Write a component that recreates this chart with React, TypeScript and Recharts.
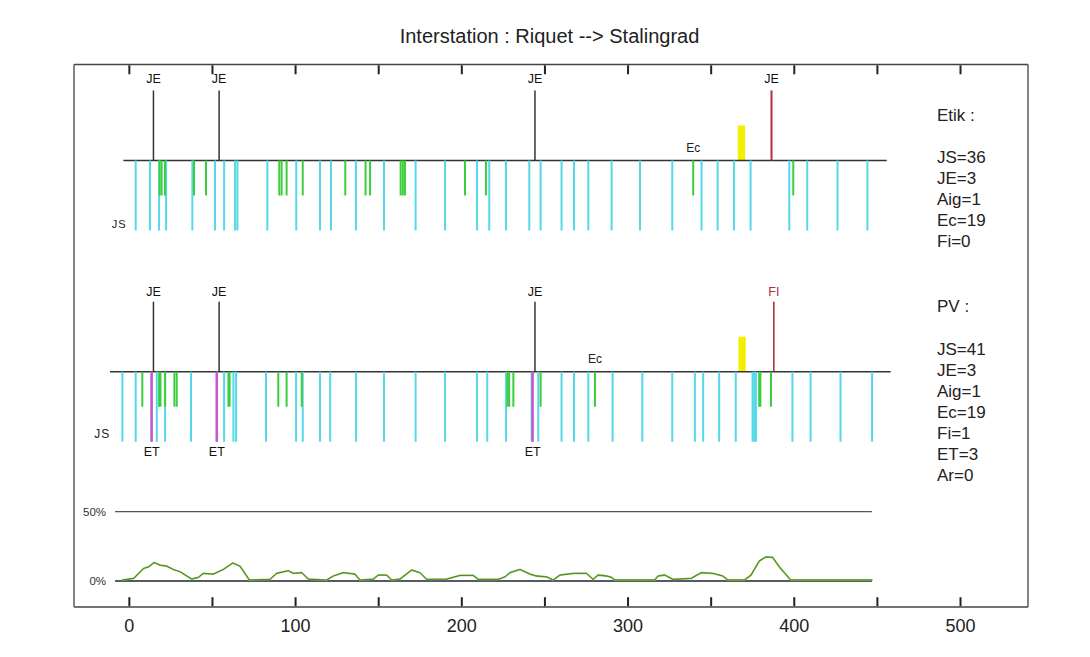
import React from 'react';
import { ComposedChart, XAxis, YAxis, Line, ReferenceLine, ReferenceArea } from 'recharts';

// ---------- data ----------
const xTicks = [0, 50, 100, 150, 200, 250, 300, 350, 400, 450, 500];

// Etik panel
const etikJS = [3.8, 12.4, 17.9, 22.1, 37.9, 51.5, 57, 63.6, 65, 83, 100.4, 114.7, 121.3, 136.3, 153.2, 172.2, 189.9, 209.1, 216.5, 226.6, 240.6, 247.4, 260, 267.5, 276.1, 290.1, 307.2, 326.6, 344.2, 353.9, 363.7, 373.7, 397, 407.8, 426, 444];
const etikEc = [18.2, 19.4, 21.4, 38.9, 46.1, 90.2, 91.6, 94.6, 104.3, 129.9, 142.1, 144.8, 163.2, 164.5, 165.8, 201.9, 214.5, 339.2, 399.4];
const etikJE = [14.5, 54, 244];
const etikJERed = [386.3];
const etikAig = [368.2];
const etikEcLabelAt = 339.2;
const etikBaseline = [-3.6, 455.6];

// PV panel
const pvJS = [-4.2, 3.8, 13.4, 16.5, 21.5, 37.1, 52.6, 57, 62.6, 64.2, 82.2, 100.3, 104.3, 114.7, 120.8, 136.4, 153.2, 172.2, 189.9, 209.1, 215.3, 226.6, 242, 246, 260, 267.5, 276.1, 290.7, 308.6, 326.6, 340.2, 345.2, 354.8, 364.8, 374.9, 375.9, 376.9, 398.9, 409.8, 427.8, 446.8];
const pvEc = [7.8, 17.9, 18.7, 21.5, 27.1, 28.5, 59.6, 60.3, 89.6, 94.6, 103.7, 227.5, 228.5, 231, 247.4, 280.1, 378.9, 379.6, 386];
const pvJE = [14.5, 54, 244];
const pvFI = [387.7];
const pvET = [13.4, 52.6, 242.6];
const pvAig = [368.6];
const pvEcLabelAt = 280.1;
const pvBaseline = [-11.6, 458];

// percentage curve
const pctPos = [-4.4, 2.6, 8.5, 11.5, 14.9, 18.5, 22.5, 26.5, 30.5, 37.5, 41.5, 44.5, 50.5, 56.5, 62.2, 66.6, 72.2, 84.6, 88.6, 95.6, 98.6, 103.7, 107.7, 118.7, 122.7, 128.7, 135.7, 138.7, 146.8, 149.7, 154.8, 157.8, 162.8, 169.8, 174.8, 178.9, 190.9, 198.9, 206.9, 209.9, 222, 226, 229, 235, 241, 245, 251, 255, 259, 267, 275, 279, 282, 287, 290, 292, 316, 318, 322, 327, 338, 344, 351, 357, 360, 370, 374, 379, 383, 387, 391, 397, 398, 447];
const pctVal = [0.7, 1.9, 9, 10.2, 13.3, 11.4, 10.7, 8.3, 6.7, 1.4, 2.6, 5.5, 5, 8.3, 13, 10.7, 0.7, 1.2, 5.5, 7.4, 5.5, 6, 1.4, 0.7, 3.6, 6, 5, 0.7, 1.4, 4.3, 4.3, 0.7, 1.4, 7.9, 6, 1.2, 1.4, 4, 4, 1.2, 1.2, 3, 6, 8.3, 5, 3.6, 3, 0.7, 4.3, 5.5, 5.5, 1.2, 4.3, 3.6, 2.6, 0.7, 0.7, 3.6, 4.3, 1.2, 1.9, 6, 5.5, 3.6, 0.7, 0.7, 4.3, 14.5, 17.4, 17, 10.2, 1.9, 0.7, 0.7];
const pctRefLevels = [50, 0];
const pctRefLabels = ['50%', '0%'];
const pctRefSpan = [-8.6, 446.7];

// mark heights (panel units)
const JE_H = 1;
const JS_H = -1;
const EC_H = -0.5;
const AIG_H = 0.5;
const AIG_HALF = 2.2;

const title = 'Interstation : Riquet --> Stalingrad';
const etikHeader = 'Etik :';
const etikStats = ['JS=36', 'JE=3', 'Aig=1', 'Ec=19', 'Fi=0'];
const pvHeader = 'PV :';
const pvStats = ['JS=41', 'JE=3', 'Aig=1', 'Ec=19', 'Fi=1', 'ET=3', 'Ar=0'];

// ---------- layout ----------
const W = 1090;
const H = 657;
const X_DOMAIN: [number, number] = [-33.3, 540.6];
const ETIK_DOMAIN: [number, number] = [-6.379, 1.371];
const PV_DOMAIN: [number, number] = [-3.361, 4.389];
const PCT_DOMAIN: [number, number] = [-18.75, 372.4];
const TICK_LEN = 9 / 70; // panel units (70 px per unit)
const TICK_INSET = 0.011; // keep tick ends just inside the frame

const CYAN = '#55d8e8';
const GREEN = '#3acf3a';
const BLACK = '#333333';
const RED = '#b0303c';
const MAGENTA = '#cc55cc';
const YELLOW = '#f2f000';
const AXIS = '#444';
const TICK = '#222';
const FONT = '"Liberation Sans", Arial, Helvetica, sans-serif';

const seg = (x: number, y0: number, y1: number) => [
  { x, y: y0 },
  { x, y: y1 },
];

const jsLabel = (dx: number, dy: number, size: number) => (props: any) => {
  const vb = props.viewBox || {};
  return (
    <text x={vb.x - dx} y={vb.y + vb.height - dy} textAnchor="end" fontSize={size} fill="#222" style={{ letterSpacing: 1 }}>
      JS
    </text>
  );
};

export default function App() {
  const pctData = pctPos.map((pos, i) => ({ pos, pct: pctVal[i] }));
  const topTickY = ETIK_DOMAIN[1] - TICK_INSET;
  const bottomTickY = PV_DOMAIN[0] + TICK_INSET;

  return (
    <div style={{ position: 'absolute', left: 0, top: 0, width: W, height: H, background: '#fff', fontFamily: FONT }}>
      <ComposedChart width={W} height={H} margin={{ top: 54.5, left: 74, right: 62, bottom: 0 }}>
        <XAxis
          dataKey="pos"
          type="number"
          domain={X_DOMAIN}
          allowDataOverflow
          ticks={xTicks}
          interval={0}
          height={50}
          tickSize={0}
          tickMargin={12}
          tickFormatter={(v: number) => (v % 100 === 0 ? String(v) : '')}
          tick={{ fontSize: 18, fill: '#222' }}
          axisLine={{ stroke: AXIS, strokeWidth: 1.3 }}
          tickLine={false}
        />
        <XAxis
          xAxisId="top"
          orientation="top"
          dataKey="pos"
          type="number"
          domain={X_DOMAIN}
          allowDataOverflow
          ticks={xTicks}
          interval={0}
          height={10}
          tickSize={0}
          tick={false}
          axisLine={{ stroke: AXIS, strokeWidth: 1.3 }}
          tickLine={false}
        />
        <YAxis yAxisId="etik" type="number" domain={ETIK_DOMAIN} allowDataOverflow hide />
        <YAxis yAxisId="pv" type="number" domain={PV_DOMAIN} allowDataOverflow hide />
        <YAxis yAxisId="pct" type="number" domain={PCT_DOMAIN} allowDataOverflow hide />

        {/* frame sides */}
        <ReferenceLine yAxisId="pct" x={X_DOMAIN[0]} stroke={AXIS} strokeWidth={1.3} ifOverflow="visible" />
        <ReferenceLine yAxisId="pct" x={X_DOMAIN[1]} stroke={AXIS} strokeWidth={1.3} ifOverflow="visible" />

        {/* inward tick marks (top and bottom of the frame) */}
        {xTicks.map((t) => (
          <ReferenceLine key={`tt${t}`} yAxisId="etik" segment={seg(t, topTickY, topTickY - TICK_LEN)} stroke={TICK} strokeWidth={2} />
        ))}
        {xTicks.map((t) => (
          <ReferenceLine key={`bt${t}`} yAxisId="pv" segment={seg(t, bottomTickY, bottomTickY + TICK_LEN)} stroke={TICK} strokeWidth={2} />
        ))}

        {/* ---- Etik panel ---- */}
        <ReferenceLine yAxisId="etik" segment={[{ x: etikBaseline[0], y: 0 }, { x: etikBaseline[1], y: 0 }]} stroke={BLACK} strokeWidth={1.4} />
        {etikJS.map((x, i) => (
          <ReferenceLine
            key={`ejs${i}`}
            yAxisId="etik"
            segment={seg(x, 0, JS_H)}
            stroke={CYAN}
            strokeWidth={2}
            label={i === 0 ? { content: jsLabel(9, 2, 11) } : undefined}
          />
        ))}
        {etikEc.map((x, i) => (
          <ReferenceLine
            key={`eec${i}`}
            yAxisId="etik"
            segment={seg(x, 0, EC_H)}
            stroke={GREEN}
            strokeWidth={2}
            label={x === etikEcLabelAt ? { value: 'Ec', position: 'top', offset: 8, fontSize: 12, fill: '#222' } : undefined}
          />
        ))}
        {etikJE.map((x, i) => (
          <ReferenceLine
            key={`eje${i}`}
            yAxisId="etik"
            segment={seg(x, 0, JE_H)}
            stroke={BLACK}
            strokeWidth={1.5}
            label={{ value: 'JE', position: 'top', offset: 7, fontSize: 12.5, fill: '#111' }}
          />
        ))}
        {etikJERed.map((x, i) => (
          <ReferenceLine
            key={`ejr${i}`}
            yAxisId="etik"
            segment={seg(x, 0, JE_H)}
            stroke={RED}
            strokeWidth={2}
            label={{ value: 'JE', position: 'top', offset: 7, fontSize: 12.5, fill: '#111' }}
          />
        ))}
        {etikAig.map((x, i) => (
          <ReferenceArea key={`eaig${i}`} yAxisId="etik" x1={x - AIG_HALF} x2={x + AIG_HALF} y1={0} y2={AIG_H} fill={YELLOW} fillOpacity={1} stroke="none" />
        ))}

        {/* ---- PV panel ---- */}
        <ReferenceLine yAxisId="pv" segment={[{ x: pvBaseline[0], y: 0 }, { x: pvBaseline[1], y: 0 }]} stroke={BLACK} strokeWidth={1.4} />
        {pvJS.map((x, i) => (
          <ReferenceLine
            key={`pjs${i}`}
            yAxisId="pv"
            segment={seg(x, 0, JS_H)}
            stroke={CYAN}
            strokeWidth={2}
            label={i === 0 ? { content: jsLabel(12, 4, 12) } : undefined}
          />
        ))}
        {pvEc.map((x, i) => (
          <ReferenceLine
            key={`pec${i}`}
            yAxisId="pv"
            segment={seg(x, 0, EC_H)}
            stroke={GREEN}
            strokeWidth={2}
            label={x === pvEcLabelAt ? { value: 'Ec', position: 'top', offset: 9, fontSize: 12, fill: '#222' } : undefined}
          />
        ))}
        {pvET.map((x, i) => (
          <ReferenceLine
            key={`pet${i}`}
            yAxisId="pv"
            segment={seg(x, 0, JS_H)}
            stroke={MAGENTA}
            strokeWidth={2.5}
            label={{ value: 'ET', position: 'bottom', offset: 5, fontSize: 12.5, fill: '#111' }}
          />
        ))}
        {pvJE.map((x, i) => (
          <ReferenceLine
            key={`pje${i}`}
            yAxisId="pv"
            segment={seg(x, 0, JE_H)}
            stroke={BLACK}
            strokeWidth={1.5}
            label={{ value: 'JE', position: 'top', offset: 6, fontSize: 12.5, fill: '#111' }}
          />
        ))}
        {pvFI.map((x, i) => (
          <ReferenceLine
            key={`pfi${i}`}
            yAxisId="pv"
            segment={seg(x, 0, JE_H)}
            stroke={RED}
            strokeWidth={1.6}
            label={{ value: 'FI', position: 'top', offset: 6, fontSize: 12.5, fill: RED }}
          />
        ))}
        {pvAig.map((x, i) => (
          <ReferenceArea key={`paig${i}`} yAxisId="pv" x1={x - AIG_HALF} x2={x + AIG_HALF} y1={0} y2={AIG_H} fill={YELLOW} fillOpacity={1} stroke="none" />
        ))}

        {/* ---- percentage panel ---- */}
        {pctRefLevels.map((lv, i) => (
          <ReferenceLine
            key={`pr${i}`}
            yAxisId="pct"
            segment={[{ x: pctRefSpan[0], y: lv }, { x: pctRefSpan[1], y: lv }]}
            stroke={i === 0 ? '#555' : '#223'}
            strokeWidth={1.3}
            label={{ value: pctRefLabels[i], position: 'left', offset: 9, fontSize: 11.5, fill: '#333' }}
          />
        ))}
        <Line
          yAxisId="pct"
          data={pctData}
          dataKey="pct"
          type="linear"
          stroke="#7cc242"
          strokeWidth={1.8}
          dot={false}
          isAnimationActive={false}
        />
        <Line
          yAxisId="pct"
          data={pctData}
          dataKey="pct"
          type="linear"
          stroke="#2a3a1a"
          strokeWidth={0.6}
          strokeOpacity={0.8}
          dot={false}
          isAnimationActive={false}
        />
      </ComposedChart>

      <svg width={W} height={H} style={{ position: 'absolute', left: 0, top: 0, pointerEvents: 'none' }}>
        <text x={549.5} y={43} textAnchor="middle" fontSize={20} fill="#222">
          {title}
        </text>
        <text x={937} y={121} fontSize={17} fill="#222">
          {etikHeader}
        </text>
        {etikStats.map((s, i) => (
          <text key={`es${i}`} x={937} y={163 + 21 * i} fontSize={17} fill="#222">
            {s}
          </text>
        ))}
        <text x={937} y={311.7} fontSize={17} fill="#222">
          {pvHeader}
        </text>
        {pvStats.map((s, i) => (
          <text key={`ps${i}`} x={937} y={355 + 21 * i} fontSize={17} fill="#222">
            {s}
          </text>
        ))}
      </svg>
    </div>
  );
}
